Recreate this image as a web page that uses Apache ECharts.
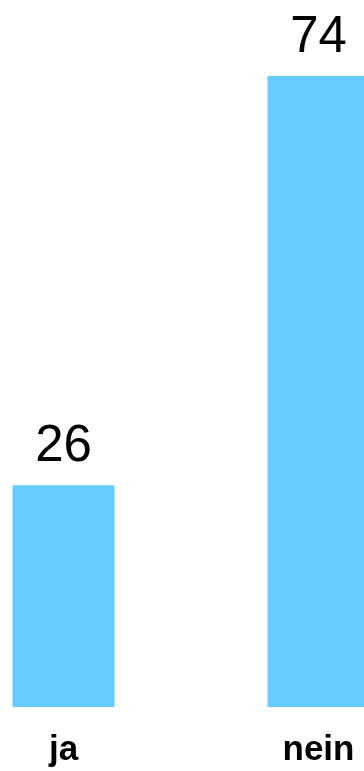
<!DOCTYPE html>
<html>
<head>
<meta charset="utf-8">
<script src="https://cdn.jsdelivr.net/npm/echarts@6/dist/echarts.min.js"></script>
<style>
html,body{margin:0;padding:0;background:#fff;overflow:hidden;width:364px;height:771px;position:relative;}
#c{position:absolute;left:-64px;top:0;width:510px;height:771px;}
</style>
</head>
<body>
<div id="c"></div>
<script>
const categories = ['ja', 'nein'];
const values = [26, 74];

const chart = echarts.init(document.getElementById('c'), null, {renderer: 'canvas'});
chart.setOption({
  animation: false,
  grid: {left: 0, right: 0, top: 76, bottom: 64, containLabel: false},
  xAxis: {
    type: 'category',
    data: categories,
    axisLine: {show: false},
    axisTick: {show: false},
    axisLabel: {
      color: '#000',
      fontFamily: 'Liberation Sans, Arial, sans-serif',
      fontWeight: 'bold',
      fontSize: 35,
      margin: 26
    }
  },
  yAxis: {
    type: 'value',
    min: 0,
    max: 74,
    show: false
  },
  series: [{
    type: 'bar',
    data: values,
    barWidth: 102,
    itemStyle: {color: '#66CCFF'},
    label: {
      show: true,
      position: 'top',
      distance: 13,
      color: '#000',
      fontFamily: 'Liberation Sans, Arial, sans-serif',
      fontSize: 51
    }
  }]
});
</script>
</body>
</html>
